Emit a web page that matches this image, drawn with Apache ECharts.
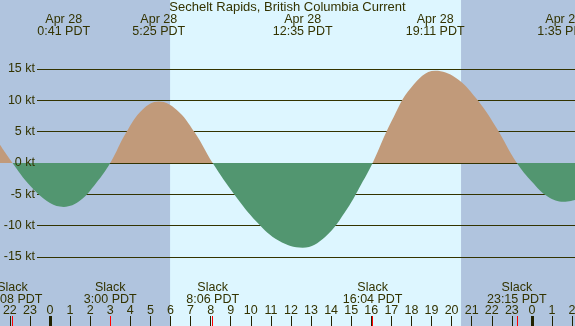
<!DOCTYPE html>
<html lang="en">
<head>
    <meta charset="UTF-8">
    <title>Sechelt Rapids Current</title>
    <script type="text/javascript" src="https://cdn.jsdelivr.net/npm/echarts@6/dist/echarts.min.js"></script>
    <style>
        html, body { margin: 0; padding: 0; }
        #ec { width: 575px; height: 326px; }
    </style>
</head>
<body>
<div id="ec"></div>
<script>
    // hours relative to midnight Apr 28 (PDT)
    var viewHours = [-2.49, 26.145];
    var daylight = [5.98, 20.47];
    var hourTicks = [-2, -1, 0, 1, 2, 3, 4, 5, 6, 7, 8, 9, 10, 11, 12, 13, 14, 15, 16, 17, 18, 19, 20, 21, 22, 23, 24, 25, 26];
    var midnights = [0, 24];
    // current in knots (flood +, ebb -)
    var curveHours = [-2.49, -1.867, -1.0, 0.0, 0.683, 1.5, 2.3, 3.0, 3.8, 4.6, 5.417, 6.3, 7.2, 8.1,
        9.2, 10.3, 11.4, 12.583, 13.7, 14.8, 15.5, 16.067, 17.0, 18.0, 19.183, 20.2, 21.2, 22.2, 23.25,
        24.0, 24.8, 25.583, 26.145];
    var currentKt = [2.9, 0, -3.6, -6.4, -7.0, -6.0, -3.2, 0, 4.9, 8.5, 9.8, 8.5, 4.9, 0,
        -5.1, -9.4, -12.4, -13.5, -11.8, -7.3, -3.4, 0, 6.6, 12.1, 14.7, 13.6, 10.4, 5.8, 0,
        -3.0, -5.4, -6.2, -5.9];
    var slackHours = [-1.867, 3.0, 8.1, 16.067, 23.25];
    var slackLabels = ['22:08 PDT', '3:00 PDT', '8:06 PDT', '16:04 PDT', '23:15 PDT'];
    var peakHours = [0.683, 5.417, 12.583, 19.183, 25.583];
    var peakDates = ['Apr 28', 'Apr 28', 'Apr 28', 'Apr 28', 'Apr 29'];
    var peakLabels = ['0:41 PDT', '5:25 PDT', '12:35 PDT', '19:11 PDT', '1:35 PDT'];
    var ktTicks = [-15, -10, -5, 0, 5, 10, 15];

    var ink = '#333300';
    var font = 'Liberation Sans, Arial, sans-serif';

    function idx(list, v) {
        for (var i = 0; i < list.length; i++) {
            if (Math.abs(list[i] - v) < 1e-6) return i;
        }
        return -1;
    }

    var points = curveHours.map(function (h, i) { return [h, currentKt[i]]; });

    function hiddenX(extra) {
        var a = {
            type: 'value', gridIndex: 0, min: viewHours[0], max: viewHours[1],
            position: 'bottom',
            axisLine: {show: false, onZero: false},
            axisTick: {show: false},
            axisLabel: {show: false},
            splitLine: {show: false}
        };
        for (var k in extra) a[k] = extra[k];
        return a;
    }

    var myChart = echarts.init(document.getElementById('ec'));
    myChart.setOption({
        animation: false,
        backgroundColor: '#b0c4de',
        title: {
            text: 'Sechelt Rapids, British Columbia Current',
            left: 'center',
            top: 1,
            padding: 0,
            textStyle: {color: ink, fontSize: 13, fontWeight: 'normal', fontFamily: font, lineHeight: 13}
        },
        grid: [
            {left: 0, right: 0, top: 0, bottom: 0, outerBoundsMode: 'none', containLabel: false},
            {left: 37, right: 0, top: 69, bottom: 69, outerBoundsMode: 'none', containLabel: false}
        ],
        xAxis: [
            // hour ticks + labels
            hiddenX({
                z: 4,
                axisTick: {show: true, inside: true, length: 10, customValues: hourTicks,
                    lineStyle: {color: '#222200', width: 1}},
                axisLabel: {show: true, inside: true, margin: 9, customValues: hourTicks,
                    color: ink, fontSize: 12.5, fontFamily: font, lineHeight: 12,
                    formatter: function (v) { return String(((Math.round(v) % 24) + 24) % 24); }}
            }),
            // midnight ticks
            hiddenX({
                z: 4,
                axisTick: {show: true, inside: true, length: 10, customValues: midnights,
                    lineStyle: {color: '#222200', width: 3}}
            }),
            // slack ticks + labels
            hiddenX({
                z: 5,
                axisTick: {show: true, inside: true, length: 10, customValues: slackHours,
                    lineStyle: {color: '#ff0000', width: 1}},
                axisLabel: {show: true, inside: true, margin: 20.5, customValues: slackHours,
                    color: ink, fontSize: 12.5, fontFamily: font, lineHeight: 12,
                    formatter: function (v) {
                        var i = idx(slackHours, v);
                        return 'Slack\n' + slackLabels[i];
                    }}
            }),
            // peak current labels at top
            hiddenX({
                z: 4,
                position: 'top',
                axisLabel: {show: true, inside: true, margin: 13.5, customValues: peakHours,
                    color: ink, fontSize: 12.5, fontFamily: font, lineHeight: 12,
                    formatter: function (v) {
                        var i = idx(peakHours, v);
                        return peakDates[i] + '\n' + peakLabels[i];
                    }}
            }),
            {type: 'value', gridIndex: 1, show: false, min: 0, max: 1}
        ],
        yAxis: [
            {type: 'value', gridIndex: 0, min: -26, max: 26, show: false},
            {
                type: 'value', gridIndex: 1, min: -15, max: 15, interval: 5, position: 'left', z: 1.5,
                axisLine: {show: false}, axisTick: {show: false}, axisLabel: {show: false},
                splitLine: {show: true, lineStyle: {color: ink, width: 1}}
            },
            {
                type: 'value', gridIndex: 1, min: -15, max: 15, position: 'left', z: 6,
                axisLine: {show: false}, axisTick: {show: false}, splitLine: {show: false},
                axisLabel: {margin: 2, customValues: ktTicks, color: ink, fontSize: 12.5, fontFamily: font,
                    formatter: '{value} kt'}
            }
        ],
        visualMap: {
            show: false,
            type: 'piecewise',
            seriesIndex: 1,
            dimension: 1,
            pieces: [
                {gte: -30, lt: 0, color: '#529670'},
                {gte: 0, lte: 30, color: '#c19a7a'}
            ]
        },
        series: [
            {
                type: 'line', xAxisIndex: 0, yAxisIndex: 0, data: [], z: 0,
                markArea: {
                    silent: true,
                    itemStyle: {color: '#ddf6ff'},
                    data: [[{xAxis: daylight[0]}, {xAxis: daylight[1]}]]
                }
            },
            {
                type: 'line', xAxisIndex: 0, yAxisIndex: 0, z: 2,
                data: points,
                smooth: 0.4,
                symbol: 'none',
                lineStyle: {width: 0},
                areaStyle: {opacity: 1}
            }
        ]
    });
</script>
</body>
</html>
